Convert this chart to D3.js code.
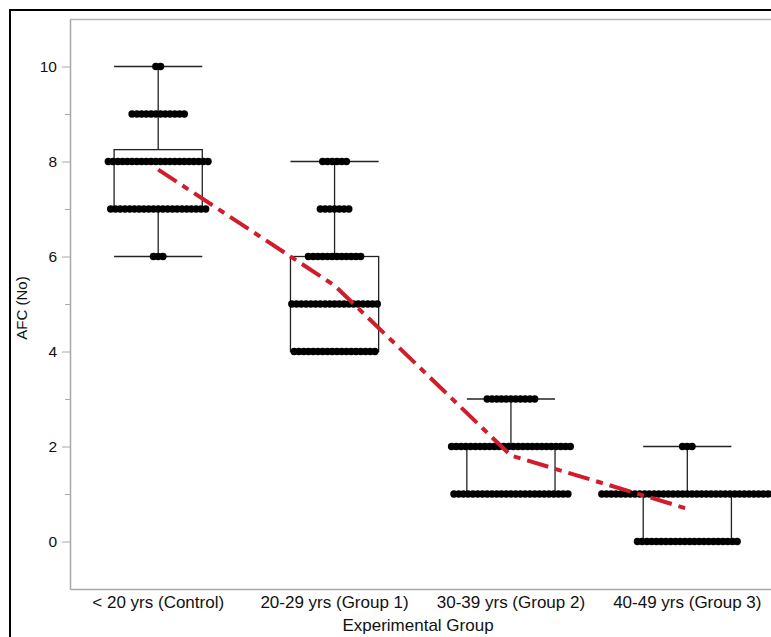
<!DOCTYPE html>
<html>
<head>
<meta charset="utf-8">
<script src="https://cdn.jsdelivr.net/npm/d3@7"></script>
<style>
  html, body { margin: 0; padding: 0; background: #fff; overflow: hidden; }
  svg { display: block; }
  text { font-family: "Liberation Sans", Arial, sans-serif; }
</style>
</head>
<body>
<script>
// ---- data ----
const categories = ["< 20 yrs (Control)", "20-29 yrs (Group 1)", "30-39 yrs (Group 2)", "40-49 yrs (Group 3)"];
// number of individual observations at each AFC value, per group
const controlCounts = [{v: 6, n: 3}, {v: 7, n: 21}, {v: 8, n: 22}, {v: 9, n: 12}, {v: 10, n: 2}];
const group1Counts  = [{v: 4, n: 18}, {v: 5, n: 19}, {v: 6, n: 12}, {v: 7, n: 7}, {v: 8, n: 6}];
const group2Counts  = [{v: 1, n: 25}, {v: 2, n: 26}, {v: 3, n: 11}];
const group3Counts  = [{v: 0, n: 22}, {v: 1, n: 37}, {v: 2, n: 3}];
// box plot statistics
const q1Values      = [7, 4, 1, 0];
const medianValues  = [8, 5, 2, 1];
const q3Values      = [8.25, 6, 2, 1];
const whiskerLow    = [6, 4, 1, 0];
const whiskerHigh   = [10, 8, 3, 2];
// group means (red dash-dot line)
const meanValues    = [7.83, 5.39, 1.81, 0.69];
// axis ticks
const yMajorTicks = [0, 2, 4, 6, 8, 10];
const yMinorTicks = [1, 3, 5, 7, 9];
const yDomain = [-1, 11];

const countsByGroup = [controlCounts, group1Counts, group2Counts, group3Counts];

// ---- layout ----
const W = 771, H = 637;
const mLeft = 70, mTop = 19, mBottom = 589, mRight = 775.5;

const svg = d3.select("body").append("svg").attr("width", W).attr("height", H);

// outer frame
svg.append("rect").attr("x", 10).attr("y", 10).attr("width", W + 20).attr("height", H + 20)
  .attr("fill", "none").attr("stroke", "#000").attr("stroke-width", 2);

const x = d3.scaleBand().domain(categories).range([mLeft, mRight]).paddingInner(0).paddingOuter(0);
const y = d3.scaleLinear().domain(yDomain).range([mBottom, mTop]);

// plot border top
svg.append("line").attr("x1", mLeft).attr("x2", W + 5).attr("y1", mTop + 0.5).attr("y2", mTop + 0.5)
  .attr("stroke", "#b4b4b4").attr("stroke-width", 1.5);

// y axis major
const yAxis = svg.append("g").attr("transform", `translate(${mLeft},0)`)
  .call(d3.axisLeft(y).tickValues(yMajorTicks).tickSize(8).tickSizeOuter(0).tickPadding(5).tickFormat(d3.format("d")));
yAxis.select(".domain").attr("stroke", "#a8a8a8").attr("stroke-width", 1.5);
yAxis.selectAll(".tick line").attr("stroke", "#a8a8a8");
yAxis.selectAll(".tick text").attr("fill", "#111").style("font-size", "15.5px");
// y axis minor
const yMinor = svg.append("g").attr("transform", `translate(${mLeft},0)`)
  .call(d3.axisLeft(y).tickValues(yMinorTicks).tickSize(5).tickSizeOuter(0).tickFormat(""));
yMinor.select(".domain").remove();
yMinor.selectAll(".tick line").attr("stroke", "#a8a8a8");

// x axis
const xAxis = svg.append("g").attr("transform", `translate(0,${mBottom})`)
  .call(d3.axisBottom(x).tickSize(0).tickSizeOuter(0).tickPadding(7));
xAxis.select(".domain").attr("stroke", "#a8a8a8").attr("stroke-width", 1.5);
xAxis.selectAll(".tick text").attr("fill", "#111").style("font-size", "17px");

// axis titles
svg.append("text").attr("x", 418).attr("y", 631).attr("text-anchor", "middle")
  .attr("fill", "#111").style("font-size", "17px").text("Experimental Group");
svg.append("text").attr("transform", "translate(27,308) rotate(-90)").attr("text-anchor", "middle")
  .attr("fill", "#111").style("font-size", "15px").text("AFC (No)");

// ---- box plots ----
const boxes = svg.append("g").attr("stroke", "#222").attr("stroke-width", 1.3).attr("fill", "none");
categories.forEach((c, i) => {
  const cx = x(c) + x.bandwidth() / 2;
  const hw = x.bandwidth() / 4;
  const g = boxes.append("g");
  g.append("line").attr("x1", cx).attr("x2", cx).attr("y1", y(q3Values[i])).attr("y2", y(whiskerHigh[i]));
  g.append("line").attr("x1", cx).attr("x2", cx).attr("y1", y(q1Values[i])).attr("y2", y(whiskerLow[i]));
  g.append("line").attr("x1", cx - hw).attr("x2", cx + hw).attr("y1", y(whiskerHigh[i])).attr("y2", y(whiskerHigh[i]));
  g.append("line").attr("x1", cx - hw).attr("x2", cx + hw).attr("y1", y(whiskerLow[i])).attr("y2", y(whiskerLow[i]));
  g.append("rect").attr("x", cx - hw).attr("y", y(q3Values[i]))
    .attr("width", 2 * hw).attr("height", y(q1Values[i]) - y(q3Values[i]));
  g.append("line").attr("x1", cx - hw).attr("x2", cx + hw).attr("y1", y(medianValues[i])).attr("y2", y(medianValues[i]));
});

// ---- points ----
const spacing = 4.75, r = 3.7;
const pts = [];
countsByGroup.forEach((rows, i) => {
  const cx = x(categories[i]) + x.bandwidth() / 2;
  rows.forEach(row => {
    for (let k = 0; k < row.n; k++) {
      pts.push({ px: cx + (k - (row.n - 1) / 2) * spacing, v: row.v });
    }
  });
});
svg.append("g").selectAll("circle").data(pts).join("circle")
  .attr("cx", d => d.px).attr("cy", d => y(d.v)).attr("r", r).attr("fill", "#000");

// ---- mean line ----
const line = d3.line().x((d, i) => x(categories[i]) + x.bandwidth() / 2).y(d => y(d));
svg.append("path").datum(meanValues).attr("d", line)
  .attr("fill", "none").attr("stroke", "#d01c2b").attr("stroke-width", 4)
  .attr("stroke-dasharray", "22,7,7,7");
</script>
</body>
</html>
